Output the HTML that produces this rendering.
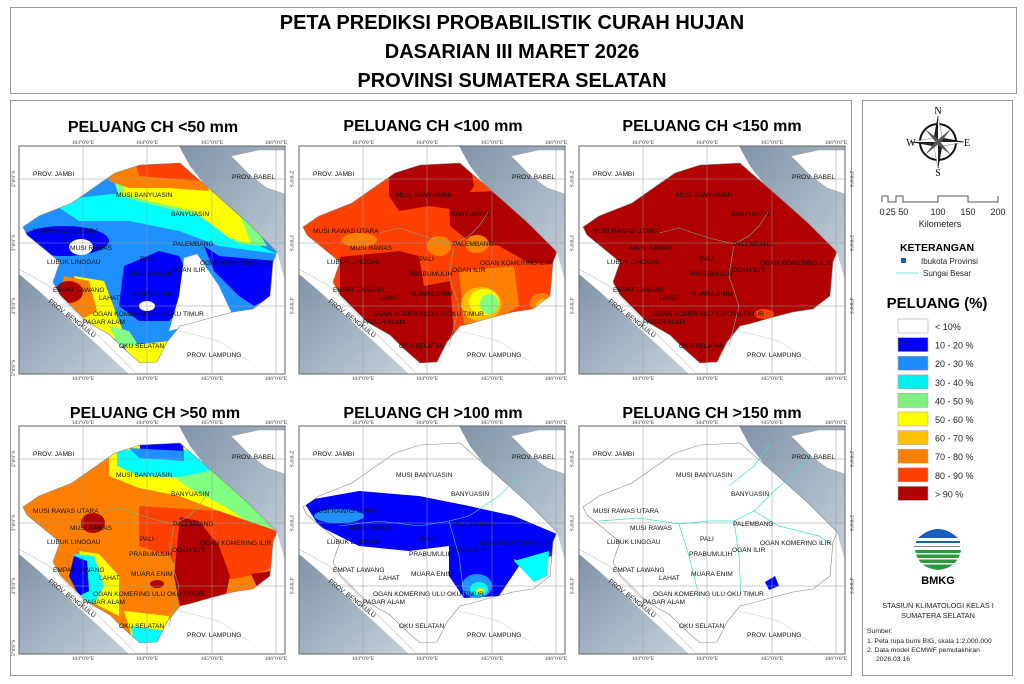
<!DOCTYPE html>
<html><head><meta charset="utf-8"><style>
body{margin:0;background:#fff;}
svg{display:block;font-family:"Liberation Sans",sans-serif;}
.lb{font-size:6.6px;fill:#111;}
.tk{font-size:5.5px;font-family:"Liberation Serif",serif;fill:#333;}
.mt{font-size:16px;font-weight:bold;text-anchor:middle;}
</style></head><body>
<svg width="1024" height="684" viewBox="0 0 1024 684">
<defs>
<linearGradient id="sea" x1="0" y1="0" x2="1" y2="1"><stop offset="0" stop-color="#7f93a8"/><stop offset="1" stop-color="#c5d0da"/></linearGradient>
<clipPath id="prov"><polygon points="4,81 20,70 53,57 70,45 96,27 121,19 161,17 171,26 185,38 201,52 228,76 258,106 254,116 251,150 234,163 214,166 191,172 170,178 161,180 148,196 138,216 121,217 104,202 91,189 68,176 41,149 34,136 41,116 8,89"/></clipPath>
<symbol id="bg" viewBox="0 0 266 228" width="266" height="228">
<rect width="266" height="228" fill="#fff"/>
<polygon points="0,128 20,145 60,182 110,228 0,228" fill="url(#sea)"/>
<polygon points="160,0 266,0 266,135 258,106 228,76 201,52 185,38 171,20" fill="url(#sea)"/>
<polygon points="212,10 240,4 266,4 266,48 248,42 232,30" fill="#fff" stroke="#999" stroke-width="0.4"/>
<polyline points="0,123 30,140 70,180 118,228" fill="none" stroke="#aaa" stroke-width="0.5"/>
<polyline points="160,185 200,195 230,215" fill="none" stroke="#bbb" stroke-width="0.4"/>
</symbol>
<symbol id="ov" viewBox="0 0 266 228" width="266" height="228" overflow="visible">
<polygon points="4,81 20,70 53,57 70,45 96,27 121,19 161,17 171,26 185,38 201,52 228,76 258,106 254,116 251,150 234,163 214,166 191,172 170,178 161,180 148,196 138,216 121,217 104,202 91,189 68,176 41,149 34,136 41,116 8,89" fill="none" stroke="#888" stroke-width="0.6"/>
<g stroke="#999" stroke-width="0.5" fill="none">
<line x1="64" y1="0" x2="64" y2="228"/><line x1="128" y1="0" x2="128" y2="228"/><line x1="193" y1="0" x2="193" y2="228"/><line x1="257" y1="0" x2="257" y2="228"/>
<line x1="0" y1="33" x2="266" y2="33"/><line x1="0" y1="97" x2="266" y2="97"/><line x1="0" y1="160" x2="266" y2="160"/>
</g>
<rect x="0" y="0" width="266" height="228" fill="none" stroke="#666" stroke-width="1"/>
</symbol>
</defs>

<rect x="10.5" y="7.5" width="1006" height="86" fill="#fff" stroke="#999"/>
<g font-weight="bold" font-size="20" text-anchor="middle">
<text x="512" y="29">PETA PREDIKSI PROBABILISTIK CURAH HUJAN</text>
<text x="512" y="58">DASARIAN III MARET 2026</text>
<text x="512" y="87">PROVINSI SUMATERA SELATAN</text>
</g>
<rect x="10.5" y="100.5" width="841" height="575" fill="#fff" stroke="#999"/>
<rect x="862.5" y="100.5" width="150" height="575" fill="#fff" stroke="#999"/>

<text class="mt" x="153" y="132">PELUANG CH &lt;50 mm</text>
<text class="mt" x="433" y="131">PELUANG CH &lt;100 mm</text>
<text class="mt" x="712" y="131">PELUANG CH &lt;150 mm</text>
<text class="mt" x="155" y="418">PELUANG CH &gt;50 mm</text>
<text class="mt" x="433" y="418">PELUANG CH &gt;100 mm</text>
<text class="mt" x="712" y="418">PELUANG CH &gt;150 mm</text>

<!-- Panel 1 -->
<g transform="translate(19,146)">
<use href="#bg"/>
<g clip-path="url(#prov)">
<rect width="266" height="228" fill="#1e90ff"/>
<polygon points="30,55 120,45 175,55 220,90 258,108 200,100 160,85 110,75 60,75" fill="#00ffff"/>
<polygon points="95,35 185,35 230,70 248,100 220,98 180,70 130,58 100,50" fill="#80ff80"/>
<polygon points="105,38 185,38 222,72 232,98 210,92 175,65 130,55 105,48" fill="#ffff00"/>
<polygon points="90,15 180,12 190,45 150,42 110,42 90,35" fill="#ff8000"/>
<polygon points="115,12 175,10 180,35 120,30" fill="#ff4000"/>
<ellipse cx="45" cy="95" rx="45" ry="15" fill="#0000ff"/>
<ellipse cx="62" cy="101" rx="12" ry="8" fill="#fff"/>
<polygon points="105,120 140,105 160,110 170,130 165,160 150,175 120,175 100,160" fill="#0000ff"/>
<polygon points="185,100 200,110 258,115 254,150 235,160 220,150 195,125" fill="#0000ff"/>
<polygon points="55,130 85,135 100,175 110,200 90,190 65,175" fill="#ffff00"/>
<polygon points="45,130 70,135 78,165 60,175 40,150" fill="#ff8000"/>
<ellipse cx="50" cy="146" rx="14" ry="11" fill="#b00000"/>
<ellipse cx="128" cy="160" rx="8" ry="5" fill="#fff"/>
<polygon points="165,112 178,108 200,140 214,170 161,182 150,185 160,150" fill="#fff"/>
<polygon points="105,200 150,195 145,218 115,218" fill="#ffff00"/>
<polygon points="90,180 110,185 120,200 100,200" fill="#80ff80"/>
</g>
<use href="#ov"/>
</g>

<!-- Panel 2 -->
<g transform="translate(299,146)">
<use href="#bg"/>
<g clip-path="url(#prov)">
<rect width="266" height="228" fill="#ff4000"/>
<polygon points="90,25 110,10 170,10 175,40 158,64 130,60 100,65 90,50" fill="#b00000"/>
<polygon points="150,47 200,45 258,100 258,118 230,117 200,100 170,95 151,80" fill="#b00000"/>
<polygon points="41,111 100,105 120,110 125,140 151,135 155,190 151,217 100,217 41,170" fill="#b00000"/>
<ellipse cx="60" cy="94" rx="18" ry="7" fill="#ff8000"/>
<ellipse cx="140" cy="100" rx="12" ry="10" fill="#ff8000"/>
<ellipse cx="178" cy="98" rx="12" ry="9" fill="#ff8000"/>
<polygon points="160,125 215,120 220,160 195,175 165,178" fill="#ff8000"/>
<ellipse cx="182" cy="158" rx="20" ry="17" fill="#ffc000"/>
<ellipse cx="185" cy="156" rx="15" ry="13" fill="#ffff00"/>
<ellipse cx="190" cy="158" rx="9" ry="10" fill="#80ff80"/>
<ellipse cx="243" cy="157" rx="12" ry="10" fill="#ff8000"/>
<ellipse cx="245" cy="160" rx="8" ry="7" fill="#ffc000"/>
</g>
<g fill="none" stroke="#6ab89a" stroke-width="0.6">
<polyline points="80,87 100,82 130,92 155,98 170,90 180,80 190,65"/>
<polyline points="155,98 150,130 160,160 150,200"/>
</g>
<use href="#ov"/>
</g>

<!-- Panel 3 -->
<g transform="translate(579,146)">
<use href="#bg"/>
<g clip-path="url(#prov)">
<rect width="266" height="228" fill="#b00000"/>
<ellipse cx="185" cy="168" rx="10" ry="5" fill="#ff4000"/>
</g>
<g fill="none" stroke="#6ab89a" stroke-width="0.6">
<polyline points="80,87 100,82 130,92 155,98 170,90 180,80 190,65"/>
<polyline points="155,98 150,130 160,160 150,200"/>
</g>
<use href="#ov"/>
</g>

<!-- Panel 4 -->
<g transform="translate(19,426)">
<use href="#bg"/>
<g clip-path="url(#prov)">
<rect width="266" height="228" fill="#ff8000"/>
<polygon points="90,20 190,20 230,60 258,100 258,115 230,105 200,85 160,70 120,62 90,50" fill="#ffff00"/>
<polygon points="140,40 190,30 230,60 258,105 235,100 205,80 170,62" fill="#80ff80"/>
<polygon points="98,24 188,24 190,45 160,51 120,50 98,40" fill="#00ffff"/>
<polygon points="121,9 163,9 165,31 140,28 121,25" fill="#0000ff"/>
<polygon points="110,22 165,25 165,35 120,32" fill="#1e90ff"/>
<polygon points="120,80 200,85 258,105 258,140 230,150 170,160 150,130 120,120" fill="#ff4000"/>
<polygon points="161,91 180,95 200,120 211,150 205,177 161,182 155,150" fill="#b00000"/>
<polygon points="232,148 252,145 251,167 240,165" fill="#b00000"/>
<ellipse cx="74" cy="97" rx="12" ry="10" fill="#b00000"/>
<polygon points="60,125 80,128 100,150 100,190 80,180 65,170" fill="#ffff00"/>
<polygon points="55,128 75,130 85,160 75,178 60,172" fill="#00ffff"/>
<polygon points="55,130 68,135 70,165 60,170 50,150" fill="#0000ff"/>
<polygon points="105,185 150,190 145,218 115,218" fill="#ffff00"/>
<polygon points="112,200 148,205 145,218 115,218" fill="#00ffff"/>
<ellipse cx="138" cy="158" rx="7" ry="4" fill="#b00000"/>
</g>
<g fill="none" stroke="#6ab89a" stroke-width="0.6">
<polyline points="80,87 100,82 130,92 155,98 170,90 180,80 190,65"/>
<polyline points="155,98 150,130 160,160 150,200"/>
</g>
<use href="#ov"/>
</g>

<!-- Panel 5 -->
<g transform="translate(299,426)">
<use href="#bg"/>
<g clip-path="url(#prov)">
<rect width="266" height="228" fill="#fff"/>
<polygon points="4,75 60,65 120,70 170,80 215,90 258,108 254,130 220,135 190,125 150,120 110,125 60,120 20,100" fill="#0000ff"/>
<polygon points="150,110 200,115 220,140 200,170 165,172 150,150" fill="#0000ff"/>
<ellipse cx="178" cy="160" rx="15" ry="12" fill="#1e90ff"/>
<ellipse cx="180" cy="163" rx="9" ry="7" fill="#00ffff"/>
<ellipse cx="181" cy="165" rx="4" ry="3" fill="#ffff00"/>
<ellipse cx="40" cy="90" rx="25" ry="7" fill="#1e90ff"/>
<polygon points="215,135 250,125 248,150 235,156" fill="#00ffff"/>
</g>
<g fill="none" stroke="#40e0d0" stroke-width="0.6">
<polyline points="40,100 80,95 120,100 150,95 170,90 200,70 220,50"/>
<polyline points="150,95 160,130 165,170"/>
</g>
<use href="#ov"/>
</g>

<!-- Panel 6 -->
<g transform="translate(579,426)">
<use href="#bg"/>
<g fill="none" stroke="#40e0d0" stroke-width="0.7">
<polyline points="20,95 60,92 100,98 130,95 155,95 175,85 195,65 215,48 230,30"/>
<polyline points="155,95 160,130 162,168"/>
<polyline points="100,98 110,130 120,170"/>
<polyline points="175,85 200,100 240,110 255,120"/>
<polyline points="150,60 175,40 190,20"/>
</g>
<polygon points="186,156 196,150 200,160 190,164" fill="#0000ff"/>
<use href="#ov"/>
</g>

<g class="lb">
<g transform="translate(19,146)">
<text x="14" y="30">PROV. JAMBI</text><text x="213" y="33">PROV. BABEL</text><text x="97" y="51">MUSI BANYUASIN</text><text x="152" y="70">BANYUASIN</text><text x="14" y="87">MUSI RAWAS UTARA</text><text x="51" y="104">MUSI RAWAS</text><text x="154" y="100">PALEMBANG</text><text x="28" y="118">LUBUK LINGGAU</text><text x="181" y="119">OGAN KOMERING ILIR</text><text x="121" y="115">PALI</text><text x="110" y="130">PRABUMULIH</text><text x="153" y="126">OGAN ILIR</text><text x="34" y="146">EMPAT LAWANG</text><text x="80" y="154">LAHAT</text><text x="112" y="150">MUARA ENIM</text><text x="74" y="170">OGAN KOMERING ULU OKU TIMUR</text><text x="64" y="178">PAGAR ALAM</text><text x="100" y="202">OKU SELATAN</text><text x="168" y="211">PROV. LAMPUNG</text><text transform="translate(29,156) rotate(38)">PROV. BENGKULU</text>
</g>
<g transform="translate(299,146)">
<text x="14" y="30">PROV. JAMBI</text><text x="213" y="33">PROV. BABEL</text><text x="97" y="51">MUSI BANYUASIN</text><text x="152" y="70">BANYUASIN</text><text x="14" y="87">MUSI RAWAS UTARA</text><text x="51" y="104">MUSI RAWAS</text><text x="154" y="100">PALEMBANG</text><text x="28" y="118">LUBUK LINGGAU</text><text x="181" y="119">OGAN KOMERING ILIR</text><text x="121" y="115">PALI</text><text x="110" y="130">PRABUMULIH</text><text x="153" y="126">OGAN ILIR</text><text x="34" y="146">EMPAT LAWANG</text><text x="80" y="154">LAHAT</text><text x="112" y="150">MUARA ENIM</text><text x="74" y="170">OGAN KOMERING ULU OKU TIMUR</text><text x="64" y="178">PAGAR ALAM</text><text x="100" y="202">OKU SELATAN</text><text x="168" y="211">PROV. LAMPUNG</text><text transform="translate(29,156) rotate(38)">PROV. BENGKULU</text>
</g>
<g transform="translate(579,146)">
<text x="14" y="30">PROV. JAMBI</text><text x="213" y="33">PROV. BABEL</text><text x="97" y="51">MUSI BANYUASIN</text><text x="152" y="70">BANYUASIN</text><text x="14" y="87">MUSI RAWAS UTARA</text><text x="51" y="104">MUSI RAWAS</text><text x="154" y="100">PALEMBANG</text><text x="28" y="118">LUBUK LINGGAU</text><text x="181" y="119">OGAN KOMERING ILIR</text><text x="121" y="115">PALI</text><text x="110" y="130">PRABUMULIH</text><text x="153" y="126">OGAN ILIR</text><text x="34" y="146">EMPAT LAWANG</text><text x="80" y="154">LAHAT</text><text x="112" y="150">MUARA ENIM</text><text x="74" y="170">OGAN KOMERING ULU OKU TIMUR</text><text x="64" y="178">PAGAR ALAM</text><text x="100" y="202">OKU SELATAN</text><text x="168" y="211">PROV. LAMPUNG</text><text transform="translate(29,156) rotate(38)">PROV. BENGKULU</text>
</g>
<g transform="translate(19,426)">
<text x="14" y="30">PROV. JAMBI</text><text x="213" y="33">PROV. BABEL</text><text x="97" y="51">MUSI BANYUASIN</text><text x="152" y="70">BANYUASIN</text><text x="14" y="87">MUSI RAWAS UTARA</text><text x="51" y="104">MUSI RAWAS</text><text x="154" y="100">PALEMBANG</text><text x="28" y="118">LUBUK LINGGAU</text><text x="181" y="119">OGAN KOMERING ILIR</text><text x="121" y="115">PALI</text><text x="110" y="130">PRABUMULIH</text><text x="153" y="126">OGAN ILIR</text><text x="34" y="146">EMPAT LAWANG</text><text x="80" y="154">LAHAT</text><text x="112" y="150">MUARA ENIM</text><text x="74" y="170">OGAN KOMERING ULU OKU TIMUR</text><text x="64" y="178">PAGAR ALAM</text><text x="100" y="202">OKU SELATAN</text><text x="168" y="211">PROV. LAMPUNG</text><text transform="translate(29,156) rotate(38)">PROV. BENGKULU</text>
</g>
<g transform="translate(299,426)">
<text x="14" y="30">PROV. JAMBI</text><text x="213" y="33">PROV. BABEL</text><text x="97" y="51">MUSI BANYUASIN</text><text x="152" y="70">BANYUASIN</text><text x="14" y="87">MUSI RAWAS UTARA</text><text x="51" y="104">MUSI RAWAS</text><text x="154" y="100">PALEMBANG</text><text x="28" y="118">LUBUK LINGGAU</text><text x="181" y="119">OGAN KOMERING ILIR</text><text x="121" y="115">PALI</text><text x="110" y="130">PRABUMULIH</text><text x="153" y="126">OGAN ILIR</text><text x="34" y="146">EMPAT LAWANG</text><text x="80" y="154">LAHAT</text><text x="112" y="150">MUARA ENIM</text><text x="74" y="170">OGAN KOMERING ULU OKU TIMUR</text><text x="64" y="178">PAGAR ALAM</text><text x="100" y="202">OKU SELATAN</text><text x="168" y="211">PROV. LAMPUNG</text><text transform="translate(29,156) rotate(38)">PROV. BENGKULU</text>
</g>
<g transform="translate(579,426)">
<text x="14" y="30">PROV. JAMBI</text><text x="213" y="33">PROV. BABEL</text><text x="97" y="51">MUSI BANYUASIN</text><text x="152" y="70">BANYUASIN</text><text x="14" y="87">MUSI RAWAS UTARA</text><text x="51" y="104">MUSI RAWAS</text><text x="154" y="100">PALEMBANG</text><text x="28" y="118">LUBUK LINGGAU</text><text x="181" y="119">OGAN KOMERING ILIR</text><text x="121" y="115">PALI</text><text x="110" y="130">PRABUMULIH</text><text x="153" y="126">OGAN ILIR</text><text x="34" y="146">EMPAT LAWANG</text><text x="80" y="154">LAHAT</text><text x="112" y="150">MUARA ENIM</text><text x="74" y="170">OGAN KOMERING ULU OKU TIMUR</text><text x="64" y="178">PAGAR ALAM</text><text x="100" y="202">OKU SELATAN</text><text x="168" y="211">PROV. LAMPUNG</text><text transform="translate(29,156) rotate(38)">PROV. BENGKULU</text>
</g>
</g>

<g class="tk" text-anchor="middle">
<g transform="translate(19,146)"><text x="64" y="-2">103°0'0"E</text><text x="128" y="-2">104°0'0"E</text><text x="193" y="-2">105°0'0"E</text><text x="257" y="-2">106°0'0"E</text><text x="64" y="234">103°0'0"E</text><text x="128" y="234">104°0'0"E</text><text x="193" y="234">105°0'0"E</text><text x="257" y="234">106°0'0"E</text><text transform="translate(271,33) rotate(90)">2°0'0"S</text><text transform="translate(271,97) rotate(90)">3°0'0"S</text><text transform="translate(271,160) rotate(90)">4°0'0"S</text><text transform="translate(-4,33) rotate(-90)">2°0'0"S</text><text transform="translate(-4,97) rotate(-90)">3°0'0"S</text><text transform="translate(-4,160) rotate(-90)">4°0'0"S</text><text transform="translate(-4,222) rotate(-90)">5°0'0"S</text></g>
<g transform="translate(299,146)"><text x="64" y="-2">103°0'0"E</text><text x="128" y="-2">104°0'0"E</text><text x="193" y="-2">105°0'0"E</text><text x="257" y="-2">106°0'0"E</text><text x="64" y="234">103°0'0"E</text><text x="128" y="234">104°0'0"E</text><text x="193" y="234">105°0'0"E</text><text x="257" y="234">106°0'0"E</text><text transform="translate(271,33) rotate(90)">2°0'0"S</text><text transform="translate(271,97) rotate(90)">3°0'0"S</text><text transform="translate(271,160) rotate(90)">4°0'0"S</text></g>
<g transform="translate(579,146)"><text x="64" y="-2">103°0'0"E</text><text x="128" y="-2">104°0'0"E</text><text x="193" y="-2">105°0'0"E</text><text x="257" y="-2">106°0'0"E</text><text x="64" y="234">103°0'0"E</text><text x="128" y="234">104°0'0"E</text><text x="193" y="234">105°0'0"E</text><text x="257" y="234">106°0'0"E</text><text transform="translate(271,33) rotate(90)">2°0'0"S</text><text transform="translate(271,97) rotate(90)">3°0'0"S</text><text transform="translate(271,160) rotate(90)">4°0'0"S</text></g>
<g transform="translate(19,426)"><text x="64" y="-2">103°0'0"E</text><text x="128" y="-2">104°0'0"E</text><text x="193" y="-2">105°0'0"E</text><text x="257" y="-2">106°0'0"E</text><text x="64" y="234">103°0'0"E</text><text x="128" y="234">104°0'0"E</text><text x="193" y="234">105°0'0"E</text><text x="257" y="234">106°0'0"E</text><text transform="translate(271,33) rotate(90)">2°0'0"S</text><text transform="translate(271,97) rotate(90)">3°0'0"S</text><text transform="translate(271,160) rotate(90)">4°0'0"S</text><text transform="translate(-4,33) rotate(-90)">2°0'0"S</text><text transform="translate(-4,97) rotate(-90)">3°0'0"S</text><text transform="translate(-4,160) rotate(-90)">4°0'0"S</text><text transform="translate(-4,222) rotate(-90)">5°0'0"S</text></g>
<g transform="translate(299,426)"><text x="64" y="-2">103°0'0"E</text><text x="128" y="-2">104°0'0"E</text><text x="193" y="-2">105°0'0"E</text><text x="257" y="-2">106°0'0"E</text><text x="64" y="234">103°0'0"E</text><text x="128" y="234">104°0'0"E</text><text x="193" y="234">105°0'0"E</text><text x="257" y="234">106°0'0"E</text><text transform="translate(271,33) rotate(90)">2°0'0"S</text><text transform="translate(271,97) rotate(90)">3°0'0"S</text><text transform="translate(271,160) rotate(90)">4°0'0"S</text></g>
<g transform="translate(579,426)"><text x="64" y="-2">103°0'0"E</text><text x="128" y="-2">104°0'0"E</text><text x="193" y="-2">105°0'0"E</text><text x="257" y="-2">106°0'0"E</text><text x="64" y="234">103°0'0"E</text><text x="128" y="234">104°0'0"E</text><text x="193" y="234">105°0'0"E</text><text x="257" y="234">106°0'0"E</text><text transform="translate(271,33) rotate(90)">2°0'0"S</text><text transform="translate(271,97) rotate(90)">3°0'0"S</text><text transform="translate(271,160) rotate(90)">4°0'0"S</text></g>
</g>

<g transform="translate(938,142)">
<circle r="18" fill="none" stroke="#111" stroke-width="2"/>
<polygon points="0,-26 4,-4 26,0 4,4 0,26 -4,4 -26,0 -4,-4" fill="#222" stroke="#000" stroke-width="0.5"/>
<polygon points="0,-26 4,-4 0,0" fill="#fff"/><polygon points="26,0 4,4 0,0" fill="#fff"/><polygon points="0,26 -4,4 0,0" fill="#fff"/><polygon points="-26,0 -4,-4 0,0" fill="#fff"/>
<polygon points="13,-13 3,0 -13,13 -3,0" fill="#555"/><polygon points="-13,-13 0,3 13,13 0,-3" fill="#555"/>
</g>
<g font-family="Liberation Serif,serif" font-size="10" text-anchor="middle"><text x="938" y="114">N</text><text x="938" y="176">S</text><text x="911" y="146">W</text><text x="967" y="146">E</text></g>
<polyline points="882,202 882,196 888,196 888,202 896,202 896,196 903,196 903,202 938,202 938,196 968,196 968,202 998,202 998,196" fill="none" stroke="#555" stroke-width="1"/>
<g font-size="9" text-anchor="middle" fill="#222"><text x="882" y="215">0</text><text x="897" y="215">25 50</text><text x="938" y="215">100</text><text x="968" y="215">150</text><text x="998" y="215">200</text><text x="940" y="227">Kilometers</text></g>
<text x="937" y="251" font-size="10.5" font-weight="bold" text-anchor="middle">KETERANGAN</text>
<rect x="901" y="258" width="5" height="5" fill="#1060d0"/>
<text x="921" y="264" font-size="8" fill="#222">Ibukota Provinsi</text>
<line x1="896" y1="273" x2="919" y2="273" stroke="#7fe0e8"/>
<text x="923" y="276" font-size="8" fill="#222">Sungai Besar</text>
<text x="937" y="308" font-size="15" font-weight="bold" text-anchor="middle">PELUANG (%)</text>
<g stroke="#aaa" stroke-width="0.6">
<rect x="898" y="319" width="30" height="14" fill="#fff"/>
<rect x="898" y="337.6" width="30" height="14" fill="#0000f0"/>
<rect x="898" y="356.2" width="30" height="14" fill="#1e8cff"/>
<rect x="898" y="374.8" width="30" height="14" fill="#00f0f0"/>
<rect x="898" y="393.4" width="30" height="14" fill="#80f080"/>
<rect x="898" y="412" width="30" height="14" fill="#ffff00"/>
<rect x="898" y="430.6" width="30" height="14" fill="#ffc000"/>
<rect x="898" y="449.2" width="30" height="14" fill="#ff8000"/>
<rect x="898" y="467.8" width="30" height="14" fill="#ff4000"/>
<rect x="898" y="486.4" width="30" height="14" fill="#b00000"/>
</g>
<g font-size="9" fill="#222">
<text x="935" y="330">&lt; 10%</text><text x="935" y="348.6">10 - 20 %</text><text x="935" y="367.2">20 - 30 %</text><text x="935" y="385.8">30 - 40 %</text><text x="935" y="404.4">40 - 50 %</text><text x="935" y="423">50 - 60 %</text><text x="935" y="441.6">60 - 70 %</text><text x="935" y="460.2">70 - 80 %</text><text x="935" y="478.8">80 - 90 %</text><text x="935" y="497.4">&gt; 90 %</text>
</g>
<path d="M918,538 Q938,520 958,538 Z" fill="#1a5fc0"/>
<rect x="916" y="541" width="44" height="2" fill="#1a5fc0"/>
<rect x="914" y="546" width="46" height="1" fill="#888"/>
<path d="M915,550 L961,550 Q958,568 938,570 Q918,568 915,550 Z" fill="#2a9a3a"/>
<rect x="915" y="553" width="46" height="1.5" fill="#fff"/><rect x="915" y="558" width="46" height="1.5" fill="#fff"/><rect x="915" y="563" width="46" height="1.5" fill="#fff"/>
<text x="938" y="584" font-size="11" font-weight="bold" text-anchor="middle">BMKG</text>
<g font-size="7.3" text-anchor="middle" fill="#222"><text x="938" y="608">STASIUN KLIMATOLOGI KELAS I</text><text x="938" y="618">SUMATERA SELATAN</text></g>
<g font-size="6.8" fill="#222"><text x="867" y="633">Sumber:</text><text x="867" y="643">1. Peta rupa bumi BIG, skala 1:2.000.000</text><text x="867" y="652">2. Data model ECMWF pemutakhiran</text><text x="876" y="661">2026.03.16</text></g>
</svg>
</body></html>
